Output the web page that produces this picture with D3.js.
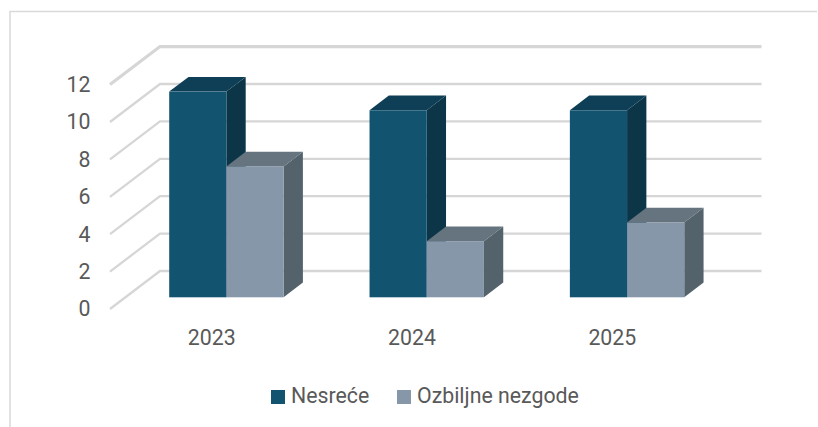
<!DOCTYPE html>
<html>
<head>
<meta charset="utf-8">
<script src="https://cdn.jsdelivr.net/npm/d3@7"></script>
<style>
  html, body { margin: 0; padding: 0; background: #fff; }
  svg { display: block; }
  text { font-family: Roboto, sans-serif; fill: #595959; }
</style>
</head>
<body>
<div id="chart"></div>
<script>
// Data
const years = ["2023", "2024", "2025"];
const seriesNames = ["Nesreće", "Ozbiljne nezgode"];
const nesrece = [11, 10, 10];
const ozbiljne = [7, 3, 4];
const yTicks = [0, 2, 4, 6, 8, 10, 12];

const width = 818, height = 427;

// Faces of each series: front, top, side
const faces = [
    { front: "#125470", top: "#0e3f56", side: "#0c3648" },
    { front: "#8597a9", top: "#65747f", side: "#53626b" }
];

const svg = d3.select("#chart").append("svg")
    .attr("width", width)
    .attr("height", height);

// Chart frame, only top and left edges show
svg.append("path")
    .attr("d", d3.line()([[817, 11.5], [10, 11.5], [10, 427]]))
    .attr("fill", "none")
    .attr("stroke", "#d9d9d9")
    .attr("stroke-width", 1.5);

// Scales
const yFront = d3.scaleLinear().domain([0, 12]).range([309, 84.6]);
const yBack = d3.scaleLinear().domain([0, 12]).range([271, 46.6]);
const yBar = d3.scaleLinear().domain([0, 12]).range([297.3, 72.9]);
const xBand = d3.scaleBand().domain(years).range([110, 711]);
const xSeries = d3.scaleBand().domain([0, 1]).range([59.2, 173.6]);

const depthX = 19.3, depthY = 14.7;
const wallFrontX = 110, wallBackX = 160, wallRightX = 761.5;

// Gridlines, side wall part then back wall part
svg.append("g")
    .selectAll("polyline")
    .data(yTicks)
    .enter()
    .append("polyline")
    .attr("points", d => [[wallFrontX, yFront(d)], [wallBackX, yBack(d)], [wallRightX, yBack(d)]].join(" "))
    .attr("fill", "none")
    .attr("stroke", "#d6d6d6")
    .attr("stroke-width", d => d === 12 ? 3.2 : 2.3);

// Axes
const yAxis = svg.append("g")
    .attr("transform", "translate(90.5,0)")
    .call(d3.axisLeft(yFront).tickValues(yTicks).tickSize(0).tickPadding(0));
yAxis.select(".domain").remove();
yAxis.selectAll("text")
    .attr("font-size", 21.3)
    .attr("fill", "#595959");

const xAxis = svg.append("g")
    .attr("transform", "translate(1.5,330)")
    .call(d3.axisBottom(xBand).tickSize(0).tickPadding(0));
xAxis.select(".domain").remove();
xAxis.selectAll("text")
    .attr("font-size", 21.3)
    .attr("fill", "#595959");

// 3D bars
const rows = years.map((year, i) => ({ year: year, values: [nesrece[i], ozbiljne[i]] }));

const groups = svg.append("g")
    .selectAll("g")
    .data(rows)
    .enter()
    .append("g")
    .attr("transform", d => "translate(" + xBand(d.year) + ",0)");

const bars = groups.selectAll("g")
    .data(d => d.values.map((v, s) => ({ v: v, s: s })))
    .enter()
    .append("g");

bars.append("polygon")
    .attr("points", d => {
        const x1 = xSeries(d.s) + xSeries.bandwidth(), t = yBar(d.v), b = yBar(0);
        return [[x1, t], [x1 + depthX, t - depthY], [x1 + depthX, b - depthY], [x1, b]].join(" ");
    })
    .attr("fill", d => faces[d.s].side);

bars.append("polygon")
    .attr("points", d => {
        const x0 = xSeries(d.s), x1 = x0 + xSeries.bandwidth(), t = yBar(d.v);
        return [[x0, t], [x0 + depthX, t - depthY], [x1 + depthX, t - depthY], [x1, t]].join(" ");
    })
    .attr("fill", d => faces[d.s].top);

bars.append("rect")
    .attr("x", d => xSeries(d.s))
    .attr("y", d => yBar(d.v))
    .attr("width", xSeries.bandwidth())
    .attr("height", d => yBar(0) - yBar(d.v))
    .attr("fill", d => faces[d.s].front);

// Legend
const legendX = [271, 397];
const legend = svg.append("g")
    .selectAll("g")
    .data(seriesNames)
    .enter()
    .append("g")
    .attr("transform", (d, i) => "translate(" + legendX[i] + ",390)");

legend.append("rect")
    .attr("width", 14)
    .attr("height", 14)
    .attr("fill", (d, i) => faces[i].front);

legend.append("text")
    .attr("x", 20)
    .attr("y", 13)
    .attr("font-size", 21.3)
    .text(d => d);
</script>
</body>
</html>
